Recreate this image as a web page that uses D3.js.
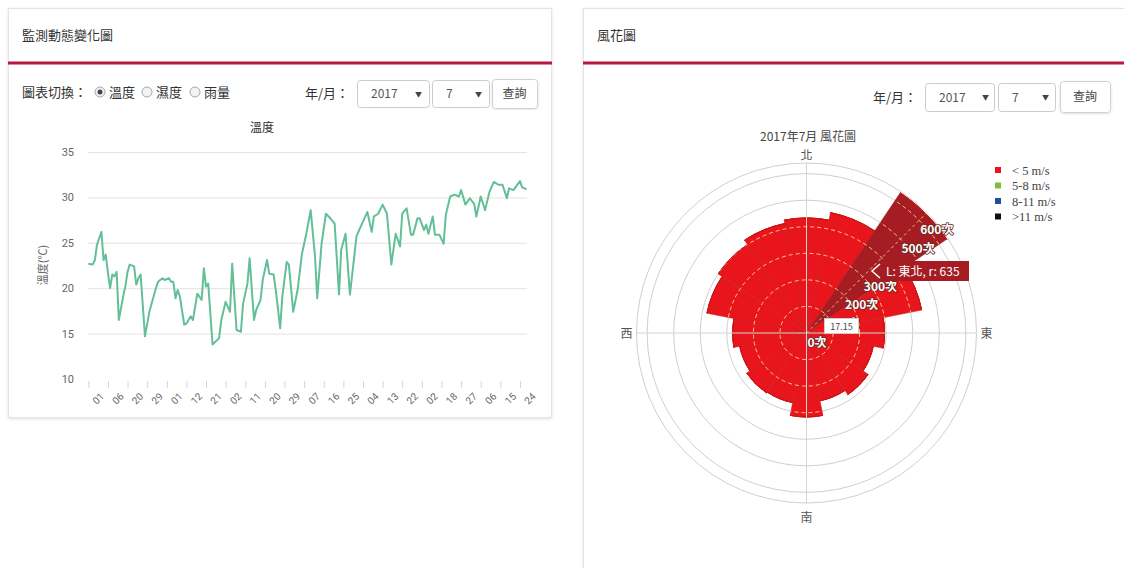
<!DOCTYPE html>
<html><head><meta charset="utf-8">
<script src="https://cdn.jsdelivr.net/npm/d3@7"></script>
<style>
body{margin:0;width:1124px;height:568px;overflow:hidden;background:#fff;}
svg{display:block;font-family:"Noto Sans CJK TC","Noto Sans",sans-serif;}
</style></head>
<body>
<script>
// ---------- data ----------
const leftTitle = "監測動態變化圖";
const rightTitle = "風花圖";
const chartTitle = "溫度";
const yAxisTitle = "溫度(℃)";
const yTicks = [10, 15, 20, 25, 30, 35];
const xTickLabels = ["01","06","20","29","01","12","21","02","11","20","29","07","16","25","04","13","22","02","18","27","06","15","24"];
const days = [0,2,3,4,5,6,7,8,9,10,11,12,13,14,16,17,18,19,21,22,23,24,26,28,31,32,34,35,37,38,39,40,41,42,44,45,47,48,50,52,53,54,55,57,60,61,63,65,66,68,70,71,73,74,76,77,79,80,82,83,85,86,88,89,91,92,94,96,98,100,102,104,105,107,109,111,113,115,116,118,120,122,123,125,128,130,131,133,135,137,139,141,143,144,146,148,149,151,152,154,155,156,158,159,161,163,164,166,168,170,171,173,175,177,178,180,182,184,186,188,190,192,193,195,198,199,201];
const temps = [22.7,22.6,23.1,24.8,25.5,26.2,23.1,23.7,21.7,20.0,21.5,21.3,21.8,16.5,19.1,20.2,21.8,22.6,22.4,20.4,21.1,21.5,14.7,17.4,20.0,20.7,21.1,20.9,21.1,20.7,20.7,18.9,19.8,19.1,16.0,16.1,16.9,16.5,19.4,18.7,22.2,20.2,20.5,13.8,14.5,16.5,18.5,17.4,22.7,15.4,15.2,18.3,20.5,23.3,16.5,17.6,18.7,20.9,23.1,21.6,21.5,19.8,15.6,19.1,22.9,22.6,17.4,19.8,23.8,26.0,28.6,23.5,18.9,24.9,28.2,27.7,27.1,19.3,24.2,26.0,19.3,23.5,25.7,26.8,28.4,26.2,27.9,28.2,29.2,28.2,22.6,26.0,24.6,28.2,28.8,25.9,25.9,27.7,27.7,26.4,27.0,26.0,27.9,25.9,25.9,24.9,28.1,30.1,30.3,30.1,30.8,29.2,29.9,29.3,27.9,30.1,28.6,30.6,31.7,31.4,31.4,29.9,31.0,30.8,31.8,31.1,30.9];

const roseTitle = "2017年7月 風花圖";
const directions = ["北","北北東","東北","東北東","東","東南東","東南","南南東","南","南南西","西南","西南西","西","西北西","西北","北北西"];
const speedNames = ["< 5 m/s","5-8 m/s","8-11 m/s",">11 m/s"];
const speedColors = ["#e8161c","#7cbf3a","#1f4f9e","#111111"];
const speedLt5 = [433,462,635,442,294,256,279,260,316,267,271,256,279,382,400,420];
const speed5to8 = [0,0,0,0,0,0,0,0,0,0,0,0,0,0,0,0];
const speed8to11 = [0,0,0,0,0,0,0,0,0,0,0,0,0,0,0,0];
const speedGt11 = [0,0,0,0,0,0,0,0,0,0,0,0,0,0,0,0];
const radialTicks = [0,100,200,300,400,500,600];
const hiddenRadialLabels = [400];   // covered by the tooltip in the reference
const compass = [["北",0],["東",90],["南",180],["西",270]];
const hoverIndex = 2;

// ---------- page ----------
const svg = d3.select("body").append("svg").attr("width",1124).attr("height",568);
const defs = svg.append("defs");
const f = defs.append("filter").attr("id","sh").attr("x","-5%").attr("y","-5%").attr("width","110%").attr("height","110%");
f.append("feDropShadow").attr("dx",0).attr("dy",1).attr("stdDeviation",1.5).attr("flood-color","#000").attr("flood-opacity",0.12);

function card(x,y,w,h,title){
  svg.append("rect").attr("x",x+0.5).attr("y",y+0.5).attr("width",w).attr("height",h)
    .attr("fill","#fff").attr("stroke","#e4e4e4").attr("filter","url(#sh)");
  svg.append("rect").attr("x",x).attr("y",61.5).attr("width",w+1).attr("height",3).attr("fill","#b8173f");
  svg.append("text").attr("x",x+14).attr("y",40).attr("font-size",13).attr("fill","#333").text(title);
}
card(8,8,543,409,leftTitle);
card(583,8,560,600,rightTitle);

function selectBox(x,y,w,h,val,arrowX){
  svg.append("rect").attr("x",x+0.5).attr("y",y+0.5).attr("width",w).attr("height",h).attr("rx",3)
    .attr("fill","#fff").attr("stroke","#ccc");
  svg.append("text").attr("x",x+14).attr("y",y+h/2+4.5).attr("font-size",12).attr("fill","#555").text(val);
  svg.append("text").attr("x",arrowX).attr("y",y+h/2+3).attr("font-size",7).attr("fill","#444").text("▼");
}
function button(x,y,w,h,label){
  svg.append("rect").attr("x",x+0.5).attr("y",y+0.5).attr("width",w).attr("height",h).attr("rx",3)
    .attr("fill","#fff").attr("stroke","#d0d0d0").attr("filter","url(#sh)");
  svg.append("text").attr("x",x+w/2).attr("y",y+h/2+4.5).attr("font-size",12).attr("text-anchor","middle").attr("fill","#444").text(label);
}
// left controls
svg.append("text").attr("x",22).attr("y",97).attr("font-size",13).attr("fill","#333").text("圖表切換：");
[[100,"溫度",true],[147,"濕度",false],[195,"雨量",false]].forEach(([x,t,c])=>{
  svg.append("circle").attr("cx",x).attr("cy",92).attr("r",5).attr("fill","#f2f2f2").attr("stroke","#a8a8a8");
  if(c) svg.append("circle").attr("cx",x).attr("cy",92).attr("r",2.5).attr("fill","#444");
  svg.append("text").attr("x",x+9).attr("y",97).attr("font-size",13).attr("fill","#333").text(t);
});
svg.append("text").attr("x",305).attr("y",98).attr("font-size",13).attr("fill","#333").text("年/月：");
selectBox(357,80,72,27,"2017",415);
selectBox(432,80,57,27,"7",475);
button(492,79,45,29,"查詢");
// right controls
svg.append("text").attr("x",873).attr("y",102).attr("font-size",13).attr("fill","#333").text("年/月：");
selectBox(925,83,69,28,"2017",982);
selectBox(998,83,57,28,"7",1042);
button(1060,81,50,31,"查詢");

// ---------- line chart ----------
const x = d3.scaleLinear().domain([0,201]).range([88.3,526.5]);
const y = d3.scaleLinear().domain([10,35]).range([379,152]);
const lc = svg.append("g");
lc.append("text").attr("x",262).attr("y",132).attr("font-size",12).attr("text-anchor","middle").attr("fill","#333").text(chartTitle);
const grid = lc.append("g").attr("transform","translate(88,0)")
  .call(d3.axisLeft(y).tickValues(yTicks.filter(v=>v>10)).tickSize(-439).tickFormat(""));
grid.select(".domain").remove();
grid.selectAll("line").attr("stroke","#e3e3e3");
const ya = lc.append("g").attr("transform","translate(74,0)")
  .call(d3.axisLeft(y).tickValues(yTicks).tickSize(0).tickPadding(0));
ya.select(".domain").remove();
ya.selectAll("text").attr("font-size",11).attr("fill","#666").attr("font-family","Roboto, 'Noto Sans', sans-serif");
lc.append("text").attr("transform","translate(47,265) rotate(-90)").attr("text-anchor","middle")
  .attr("font-size",11).attr("fill","#666").text(yAxisTitle);
const tickIdx = xTickLabels.map((d,i)=>i*9);
const xa = lc.append("g").attr("transform","translate(0,381)")
  .call(d3.axisBottom(x).tickValues(tickIdx).tickSize(7).tickFormat((d,i)=>xTickLabels[i]));
xa.select(".domain").remove();
xa.selectAll("line").attr("stroke","#ccd6eb");
xa.selectAll("text").attr("font-size",10).attr("fill","#666").attr("text-anchor","end")
  .attr("font-family","Roboto, 'Noto Sans', sans-serif")
  .attr("transform","translate(4,4) rotate(-45)").attr("dy","0.7em");
const pts = days.map((d,i)=>[d,temps[i]]);
lc.append("path").datum(pts)
  .attr("d",d3.line().x(d=>x(d[0])).y(d=>y(d[1])))
  .attr("fill","none").attr("stroke","#62bf98").attr("stroke-width",2).attr("stroke-linejoin","round");

// ---------- wind rose ----------
const cx=806.5, cy=333;
const r = d3.scaleLinear().domain([0,640]).range([0,170]);
const step = 2*Math.PI/directions.length;
const rows = directions.map((d,i)=>({dir:d,s0:speedLt5[i],s1:speed5to8[i],s2:speed8to11[i],s3:speedGt11[i]}));
const stack = d3.stack().keys(["s0","s1","s2","s3"])(rows);
const rg = svg.append("g").attr("transform",`translate(${cx},${cy})`);
svg.append("text").attr("x",808).attr("y",141).attr("font-size",12).attr("text-anchor","middle").attr("fill","#444").text(roseTitle);
rg.selectAll("circle.g").data(radialTicks.slice(1).concat([640])).enter().append("circle")
  .attr("r",d=>r(d)).attr("fill","none").attr("stroke","#cfcfcf");
const arc = d3.arc().innerRadius(d=>r(d[0])).outerRadius(d=>r(d[1]))
  .startAngle((d,i)=>i*step-step/2).endAngle((d,i)=>i*step+step/2);
stack.forEach((layer,k)=>{
  rg.append("g").selectAll("path").data(layer).enter().append("path")
    .attr("d",(d,i)=>arc(d,i))
    .attr("fill",(d,i)=> (k===0 && i===hoverIndex) ? "#a51d22" : speedColors[k])
    .attr("stroke",(d,i)=> (k===0 && i===hoverIndex) ? "#8f1a1e" : "#c81515").attr("stroke-width",0.5);
});
const cp = defs.append("clipPath").attr("id","barclip");
cp.selectAll("path").data(stack[stack.length-1]).enter().append("path")
  .attr("transform",`translate(${cx},${cy})`)
  .attr("d",(d,i)=>d3.arc().innerRadius(0).outerRadius(r(d[1])).startAngle(i*step-step/2).endAngle(i*step+step/2)());
const dg = svg.append("g").attr("clip-path","url(#barclip)").append("g").attr("transform",`translate(${cx},${cy})`);
dg.selectAll("circle").data(radialTicks.slice(1)).enter().append("circle")
  .attr("r",d=>r(d)).attr("fill","none").attr("stroke","rgba(255,226,150,0.85)").attr("stroke-dasharray","4,3");
rg.append("line").attr("x1",0).attr("x2",0).attr("y1",-170).attr("y2",170).attr("stroke","#d4d4d4");
rg.append("line").attr("x1",-170).attr("x2",170).attr("y1",0).attr("y2",0).attr("stroke","#d4d4d4");
const a45 = Math.PI/4;
rg.append("line").attr("x1",0).attr("y1",0).attr("x2",170*Math.sin(a45)).attr("y2",-170*Math.cos(a45))
  .attr("stroke","rgba(255,226,170,0.8)").attr("stroke-dasharray","3,3");
compass.forEach(([t,deg])=>{
  const a = deg*Math.PI/180;
  const rr = deg===0 ? 177.5 : (deg===180 ? 184 : 180);
  rg.append("text").attr("x",rr*Math.sin(a)).attr("y",-rr*Math.cos(a)+4.5).attr("text-anchor","middle")
    .attr("font-size",12).attr("fill","#555").text(t);
});
rg.selectAll("text.rt").data(radialTicks.filter(v=>!hiddenRadialLabels.includes(v))).enter().append("text")
  .attr("x",d=>r(d)*Math.sin(a45)+1).attr("y",d=>-r(d)*Math.cos(a45)+14)
  .attr("font-size",12).attr("font-weight","bold").attr("fill","#fff")
  .attr("stroke","#6b2a2a").attr("stroke-width",1.6).attr("paint-order","stroke").attr("stroke-linejoin","round")
  .text(d=>d+"次");
svg.append("rect").attr("x",824.5).attr("y",318.5).attr("width",34).attr("height",15).attr("fill","#fff").attr("stroke","#ccc");
svg.append("text").attr("x",841.5).attr("y",329.5).attr("text-anchor","middle").attr("font-size",9).attr("fill","#444").text("17.15");
svg.append("rect").attr("x",879).attr("y",261).attr("width",90).attr("height",20).attr("fill","#a51d22");
svg.append("path").attr("d","M880,264 L872,271 L880,278").attr("fill","none").attr("stroke","#fff").attr("stroke-width",1.5);
svg.append("text").attr("x",886).attr("y",276).attr("font-size",12).attr("fill","#fff")
  .text("L: "+directions[hoverIndex]+", r: "+speedLt5[hoverIndex]);
const lg = svg.append("g");
speedNames.forEach((n,i)=>{
  const yy = 170 + i*15.5;
  lg.append("rect").attr("x",995).attr("y",yy-3).attr("width",6).attr("height",6).attr("fill",speedColors[i]);
  lg.append("text").attr("x",1012).attr("y",yy+4.5).attr("font-size",12.5).attr("fill","#444")
    .attr("font-family","'Liberation Serif','DejaVu Serif',serif").text(n);
});
</script>
</body></html>
